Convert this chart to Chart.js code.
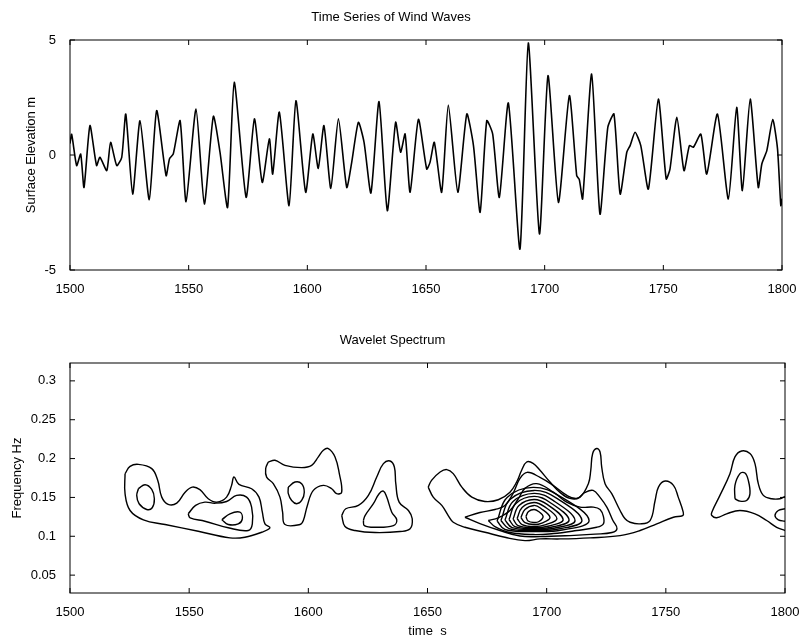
<!DOCTYPE html>
<html>
<head>
<meta charset="utf-8">
<script src="https://cdn.jsdelivr.net/npm/chart.js@4.4.1/dist/chart.umd.min.js"></script>
<style>
  body { margin: 0; background: #fff; }
  canvas { display: block; }
</style>
</head>
<body>
<canvas id="waveChart" width="807" height="300"></canvas>
<canvas id="spectrumChart" width="807" height="339"></canvas>
<script>
// time series (s, m)
const waveTime = [1500, 1500.7, 1502.8, 1504.5, 1505.9, 1508.4, 1511.2, 1512.6, 1515.5, 1517.1, 1519.7, 1521.8,
  1523.5, 1526.4, 1529.5, 1533.4, 1536.5, 1540.5, 1541.9, 1543.5, 1546.4, 1548.9, 1553.1, 1556.6, 1560.4, 1563.2,
  1566.4, 1569.2, 1574.2, 1577.7, 1581.0, 1584.0, 1585.4, 1588.2, 1592.3, 1595.2, 1599.3, 1602.3, 1604.6, 1607.0,
  1609.9, 1613.1, 1616.6, 1618.7, 1621.5, 1623.9, 1626.8, 1630.2, 1633.7, 1637.2, 1639.3, 1641.2, 1643.3, 1646.8,
  1650.3, 1651.7, 1653.5, 1656.6, 1659.4, 1663.4, 1667.2, 1670.0, 1672.8, 1675.6, 1678.1, 1680.9, 1684.7, 1689.6,
  1693.1, 1697.8, 1701.4, 1705.8, 1710.4, 1713.5, 1714.6, 1716.0, 1719.8, 1723.3, 1726.6, 1729.2, 1731.8, 1734.6,
  1736.0, 1738.1, 1740.5, 1743.7, 1747.9, 1751.2, 1752.8, 1755.7, 1758.7, 1761.0, 1762.7, 1765.8, 1768.3, 1772.8,
  1777.4, 1780.9, 1783.3, 1786.6, 1790.0, 1791.5, 1793.6, 1796.1, 1798.1, 1799.5, 1800];
const waveElevation = [0.5, 0.9, -0.46, 0.04, -1.41, 1.28, -0.46, -0.1, -0.68, 0.55, -0.46, -0.1,
  1.78, -1.7, 1.49, -1.94, 1.93, -0.9, -0.17, 0.04, 1.49, -2.03, 2.0, -2.13, 1.68, 0.12,
  -2.28, 3.16, -1.84, 1.57, -1.19, 0.7, -0.83, 1.86, -2.2, 2.36, -1.62, 0.91, -0.58, 1.28,
  -1.45, 1.57, -1.41, -0.32, 1.42, 0.55, -1.65, 2.32, -2.42, 1.42, 0.12, 0.91, -1.62, 1.55,
  -0.61, -0.32, 0.55, -1.62, 2.17, -1.62, 1.78, 0.41, -2.49, 1.49, 0.91, -1.84, 2.26, -4.09,
  4.87, -3.43, 3.45, -2.06, 2.58, -0.9, -1.07, -1.91, 3.52, -2.57, 1.2, 1.78, -1.7, 0.12,
  0.41, 0.99, 0.41, -1.48, 2.43, -1.04, -0.61, 1.64, -0.68, 0.41, 0.34, 0.91, -0.83, 1.78,
  -1.91, 2.07, -1.55, 2.43, -1.41, -0.39, 0.19, 1.54, 0.28, -2.2, -1.9];

const timeTicks = [1500, 1550, 1600, 1650, 1700, 1750, 1800];
const elevTicks = [-5, 0, 5];
const freqTicks = [0.05, 0.1, 0.15, 0.2, 0.25, 0.3];

// wavelet spectrum contour lines, [time s, frequency Hz]
const contourA0 = [[1523.1,0.1806],[1525.2,0.190],[1528.7,0.1926],[1534.3,0.1871],[1536.8,0.172],[1538.5,0.1504],
  [1541.2,0.141],[1544.8,0.1427],[1548.3,0.1568],[1551.3,0.1633],[1554.5,0.160],[1558.0,0.1483],[1561.6,0.1439],
  [1565.7,0.1504],[1567.8,0.1655],[1568.8,0.1762],[1570.9,0.1668],[1576.2,0.1612],[1579.3,0.1504],[1580.7,0.131],
  [1581.8,0.116],[1583.9,0.1109],[1580.4,0.1052],[1573.4,0.0987],[1567.1,0.098],[1553.8,0.1065],[1539.9,0.1151],
  [1530.8,0.1212],[1525.2,0.1332],[1523.1,0.1548]];
const contourA1 = [[1528.7,0.1612],[1531.5,0.1664],[1534.3,0.1603],[1535.4,0.1483],[1534.5,0.1367],[1532.2,0.1345],
  [1529.0,0.1419],[1528.0,0.1526]];
const contourA2 = [[1549.6,0.1289],[1552.7,0.1397],[1556.6,0.1439],[1560.8,0.1426],[1565.7,0.1448],[1569.9,0.1526],
  [1574.1,0.1504],[1576.2,0.1375],[1576.5,0.116],[1574.8,0.1074],[1566.4,0.1109],[1556.6,0.1194],[1550.4,0.1238]];
const contourA3 = [[1563.7,0.1212],[1567.1,0.1289],[1571.3,0.131],[1572.3,0.1225],[1570.6,0.116],[1566.4,0.1151]];
const contourB0 = [[1583.2,0.1956],[1586.0,0.1978],[1590.2,0.1913],[1597.2,0.1884],[1601.4,0.1913],[1604.2,0.2021],
  [1606.3,0.2107],[1608.4,0.2129],[1611.2,0.2021],[1613.0,0.1806],[1614.0,0.1568],[1611.9,0.1548],[1609.8,0.1612],
  [1606.3,0.1655],[1602.1,0.159],[1599.6,0.1397],[1597.9,0.1203],[1596.5,0.1151],[1590.2,0.1151],[1589.2,0.131],
  [1588.1,0.1504],[1585.3,0.1677],[1582.5,0.1762],[1582.1,0.1871]];
const contourB1 = [[1591.6,0.1633],[1594.4,0.1698],[1597.2,0.1677],[1598.3,0.1568],[1597.2,0.1461],[1595.1,0.1419],
  [1593.0,0.1461],[1591.6,0.1548]];
const contourC0 = [[1614.0,0.1267],[1615.7,0.1354],[1621.0,0.1397],[1625.2,0.1526],[1628.7,0.1762],[1631.5,0.1935],
  [1634.3,0.1969],[1636.1,0.1891],[1636.7,0.1677],[1638.1,0.1439],[1642.0,0.1332],[1643.6,0.1225],[1642.7,0.1096],
  [1638.5,0.1061],[1628.0,0.1048],[1619.6,0.1074],[1615.4,0.1125]];
const contourC1 = [[1623.1,0.1203],[1623.8,0.1267],[1627.3,0.1419],[1629.7,0.1548],[1631.5,0.1581],[1632.9,0.1504],
  [1635.0,0.131],[1637.1,0.1212],[1635.7,0.1138],[1628.0,0.1116],[1623.5,0.1138]];
const contourD0 = [[1650.3,0.1633],[1651.7,0.172],[1655.3,0.1827],[1658.1,0.1858],[1660.8,0.1806],[1664.4,0.1633],
  [1668.6,0.1504],[1674.1,0.1448],[1679.7,0.147],[1684.6,0.1568],[1687.4,0.1698],[1689.5,0.1849],[1691.6,0.1956],
  [1694.3,0.1939],[1697.2,0.1849],[1701.4,0.1698],[1705.6,0.1565],[1709.8,0.1487],[1714.0,0.1504],[1717.5,0.1677],
  [1718.5,0.1849],[1719.3,0.2065],[1721.0,0.2129],[1722.4,0.2085],[1723.1,0.1891],[1724.5,0.1677],[1727.3,0.1548],
  [1730.8,0.1332],[1732.9,0.1225],[1735.0,0.1181],[1739.2,0.116],[1743.4,0.1203],[1745.5,0.1461],[1746.9,0.1633],
  [1749.7,0.1711],[1753.2,0.1655],[1755.2,0.1504],[1757.3,0.131],[1757.1,0.1267],[1753.2,0.1245],[1746.2,0.116],
  [1739.2,0.1074],[1730.8,0.1009],[1718.2,0.098],[1705.6,0.0966],[1697.2,0.0966],[1690.9,0.0944],[1682.5,0.0987],
  [1674.1,0.1052],[1665.7,0.1116],[1660.8,0.1181],[1658.7,0.1267],[1656.0,0.1397],[1652.4,0.1504]];
const contourD1 = [[1665.7,0.1245],[1672.0,0.1306],[1678.3,0.1345],[1682.5,0.1397],[1685.9,0.1552],[1688.8,0.1745],
  [1691.8,0.1823],[1697.2,0.1758],[1702.7,0.1655],[1708.5,0.1526],[1712.7,0.1487],[1716.1,0.1565],[1719.5,0.159],
  [1722.4,0.15],[1725.3,0.1371],[1727.8,0.1203],[1729.5,0.1099],[1727.4,0.1048],[1720.3,0.1028],[1709.8,0.1009],
  [1697.2,0.0996],[1688.8,0.1003],[1680.4,0.1074],[1672.0,0.1164]];
const contourD2 = [[1675.5,0.1203],[1679.7,0.1238],[1684.6,0.1332],[1688.1,0.1483],[1690.9,0.1616],[1695.8,0.1677],
  [1702.8,0.1568],[1708.4,0.1439],[1714.0,0.1375],[1719.6,0.1375],[1722.4,0.1345],[1723.8,0.1255],[1723.8,0.116],
  [1721.0,0.1116],[1712.6,0.1074],[1702.8,0.1035],[1694.4,0.1022],[1684.6,0.1048],[1678.3,0.1125]];
const contourD3 = [[1679.2,0.1196],[1683.4,0.15],[1694.3,0.1629],[1705.6,0.1513],[1717.8,0.1203],[1706.4,0.108],
  [1694.7,0.1061],[1682.5,0.1087]];
const contourD4 = [[1680.8,0.1203],[1684.6,0.1474],[1694.7,0.159],[1704.3,0.1487],[1714.8,0.1203],[1704.8,0.1093],
  [1694.7,0.1074],[1684.2,0.1099]];
const contourD5 = [[1682.5,0.1209],[1685.9,0.1448],[1694.7,0.1552],[1702.7,0.1461],[1711.9,0.1203],[1703.5,0.1106],
  [1694.7,0.1087],[1685.5,0.1112]];
const contourD6 = [[1684.2,0.1216],[1687.1,0.1423],[1694.7,0.1513],[1701.4,0.1435],[1709.4,0.1209],[1702.3,0.1119],
  [1694.7,0.1099],[1686.7,0.1125]];
const contourD7 = [[1685.9,0.1222],[1688.4,0.1397],[1694.7,0.1474],[1700.2,0.141],[1706.9,0.1216],[1701.0,0.1132],
  [1694.7,0.1112],[1688.0,0.1138]];
const contourD8 = [[1687.6,0.1229],[1689.7,0.1371],[1694.7,0.1435],[1698.9,0.1384],[1704.3,0.1229],[1699.7,0.1151],
  [1694.7,0.1125],[1689.7,0.1151]];
const contourD9 = [[1689.2,0.1242],[1690.9,0.1345],[1694.7,0.1397],[1697.6,0.1358],[1701.4,0.1242],[1698.0,0.117],
  [1694.7,0.1151],[1690.9,0.1177]];
const contourD10 = [[1691.3,0.1254],[1692.4,0.1319],[1694.7,0.1345],[1696.6,0.1319],[1698.5,0.1254],[1696.8,0.119],
  [1694.7,0.1177],[1692.2,0.1196]];
const contourE0 = [[1800,0.1074],[1796.5,0.1116],[1792.3,0.1203],[1787.4,0.1289],[1781.1,0.1332],[1775.5,0.1289],
  [1771.3,0.1238],[1769.3,0.1267],[1769.3,0.131],[1772.7,0.1526],[1776.9,0.1806],[1779.0,0.2021],[1781.8,0.2098],
  [1785.3,0.2065],[1787.4,0.1935],[1788.8,0.1677],[1790.9,0.1526],[1794.4,0.1483],[1797.9,0.1483],[1800,0.1513]];
const contourE1 = [[1779.0,0.1483],[1779.0,0.1655],[1781.1,0.1806],[1783.2,0.1814],[1784.6,0.172],[1785.3,0.1548],
  [1783.9,0.1461],[1781.1,0.1452]];
const contourE2 = [[1800,0.1354],[1797.2,0.1332],[1795.8,0.1267],[1797.2,0.1212],[1800,0.1194]];

const closedContours = [contourA0, contourA1, contourA2, contourA3, contourB0, contourB1, contourC0, contourC1,
  contourD0, contourD1, contourD2, contourD3, contourD4, contourD5, contourD6, contourD7, contourD8, contourD9, contourD10,
  contourE1];
const openContours = [contourE0, contourE2];

const fontFamily = '"Liberation Sans", Arial, Helvetica, sans-serif';
const txt = { family: fontFamily, size: 13, weight: 'normal' };

// box round the plot and short ticks pointing inwards, like the matlab figure
const frameTicks = {
  id: 'frameTicks',
  afterDatasetsDraw(chart) {
    const { ctx, chartArea: a, scales } = chart;
    ctx.save();
    ctx.strokeStyle = '#000';
    ctx.lineWidth = 1;
    ctx.strokeRect(a.left, a.top, a.right - a.left, a.bottom - a.top);
    ctx.beginPath();
    scales.x.ticks.forEach(t => {
      const px = scales.x.getPixelForValue(t.value);
      ctx.moveTo(px, a.bottom); ctx.lineTo(px, a.bottom - 5);
      ctx.moveTo(px, a.top); ctx.lineTo(px, a.top + 5);
    });
    scales.y.ticks.forEach(t => {
      const py = scales.y.getPixelForValue(t.value);
      ctx.moveTo(a.left, py); ctx.lineTo(a.left + 5, py);
      ctx.moveTo(a.right, py); ctx.lineTo(a.right - 5, py);
    });
    ctx.stroke();
    ctx.restore();
  }
};

function setTicks(list) {
  return function (scale) { scale.ticks = list.map(v => ({ value: v })); };
}

// top: time series
new Chart(document.getElementById('waveChart'), {
  type: 'scatter',
  data: {
    datasets: [{
      data: waveTime.map((t, i) => ({ x: t, y: waveElevation[i] })),
      showLine: true,
      borderColor: '#000',
      borderWidth: 1.6,
      pointRadius: 0,
      tension: 0.2
    }]
  },
  options: {
    responsive: false,
    animation: false,
    layout: { padding: { left: 0, right: 25, top: 0, bottom: 0 } },
    plugins: {
      legend: { display: false },
      tooltip: { enabled: false },
      title: { display: true, text: 'Time Series of Wind Waves', color: '#000', font: txt, padding: { top: 9.2, bottom: 15.2 } }
    },
    scales: {
      x: {
        type: 'linear', min: 1500, max: 1800,
        grid: { display: false }, border: { display: false },
        afterBuildTicks: setTicks(timeTicks),
        ticks: { color: '#000', font: txt, padding: 4, maxRotation: 0, callback: v => String(v) },
        afterFit: s => { s.height = 30; }
      },
      y: {
        min: -5, max: 5,
        grid: { display: false }, border: { display: false },
        afterBuildTicks: setTicks(elevTicks),
        ticks: { color: '#000', font: txt, padding: 6, callback: v => String(v) },
        title: { display: true, text: 'Surface Elevation m', color: '#000', font: txt, padding: { top: 23.2, bottom: 0 } },
        afterFit: s => { s.width = 70; }
      }
    }
  },
  plugins: [frameTicks]
});

// bottom: wavelet spectrum contours
const contourSets = closedContours.map(c => c.concat([c[0]])).concat(openContours).map(c => ({
  data: c.map(p => ({ x: p[0], y: p[1] })),
  showLine: true,
  borderColor: '#000',
  borderWidth: 1.4,
  pointRadius: 0,
  tension: 0.4
}));

new Chart(document.getElementById('spectrumChart'), {
  type: 'scatter',
  data: { datasets: contourSets },
  options: {
    responsive: false,
    animation: false,
    layout: { padding: { left: 0, right: 22, top: 0, bottom: 0 } },
    plugins: {
      legend: { display: false },
      tooltip: { enabled: false },
      title: { display: true, text: 'Wavelet Spectrum', color: '#000', font: txt, padding: { top: 32.2, bottom: 15.2 } }
    },
    scales: {
      x: {
        type: 'linear', min: 1500, max: 1800,
        grid: { display: false }, border: { display: false },
        afterBuildTicks: setTicks(timeTicks),
        ticks: { color: '#000', font: txt, padding: 4, maxRotation: 0, callback: v => String(v) },
        title: { display: true, text: 'time  s', color: '#000', font: txt, padding: { top: 6.2, bottom: 0 } },
        afterFit: s => { s.height = 46; }
      },
      y: {
        min: 0.027, max: 0.323,
        grid: { display: false }, border: { display: false },
        afterBuildTicks: setTicks(freqTicks),
        ticks: { color: '#000', font: txt, padding: 6, callback: v => String(v) },
        title: { display: true, text: 'Frequency Hz', color: '#000', font: txt, padding: { top: 9.2, bottom: 0 } },
        afterFit: s => { s.width = 70; }
      }
    }
  },
  plugins: [frameTicks]
});
</script>
</body>
</html>
